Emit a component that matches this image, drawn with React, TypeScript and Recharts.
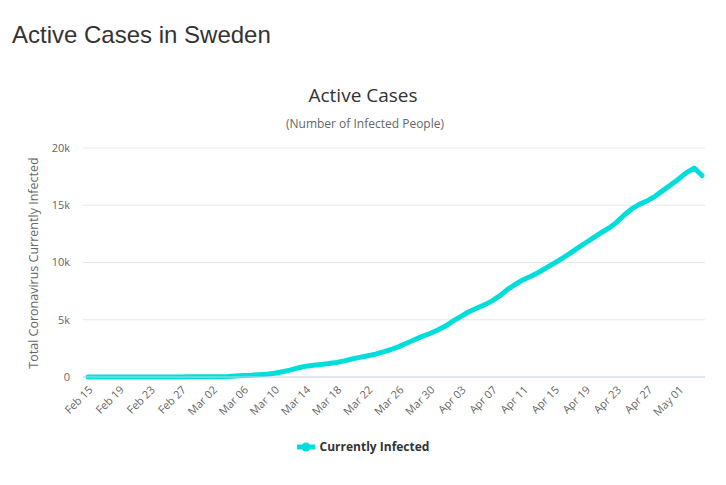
import { CartesianGrid, Legend, Line, LineChart, XAxis, YAxis } from "recharts";

// Feb 15 .. May 04 (2020), one label per day
const dates = [
  "Feb 15", "Feb 16", "Feb 17", "Feb 18", "Feb 19", "Feb 20", "Feb 21", "Feb 22",
  "Feb 23", "Feb 24", "Feb 25", "Feb 26", "Feb 27", "Feb 28", "Feb 29",
  "Mar 01", "Mar 02", "Mar 03", "Mar 04", "Mar 05", "Mar 06", "Mar 07", "Mar 08",
  "Mar 09", "Mar 10", "Mar 11", "Mar 12", "Mar 13", "Mar 14", "Mar 15", "Mar 16",
  "Mar 17", "Mar 18", "Mar 19", "Mar 20", "Mar 21", "Mar 22", "Mar 23", "Mar 24",
  "Mar 25", "Mar 26", "Mar 27", "Mar 28", "Mar 29", "Mar 30", "Mar 31",
  "Apr 01", "Apr 02", "Apr 03", "Apr 04", "Apr 05", "Apr 06", "Apr 07", "Apr 08",
  "Apr 09", "Apr 10", "Apr 11", "Apr 12", "Apr 13", "Apr 14", "Apr 15", "Apr 16",
  "Apr 17", "Apr 18", "Apr 19", "Apr 20", "Apr 21", "Apr 22", "Apr 23", "Apr 24",
  "Apr 25", "Apr 26", "Apr 27", "Apr 28", "Apr 29", "Apr 30",
  "May 01", "May 02", "May 03", "May 04",
];

const activeCases = [
  1, 1, 1, 1, 1, 1, 1, 1, 1, 1, 1, 2, 7, 12, 13,
  14, 15, 30, 52, 94, 137, 161, 203, 248, 330, 460, 598, 790, 940, 1017, 1098,
  1177, 1262, 1407, 1580, 1715, 1860, 1990, 2200, 2400, 2650, 2950, 3250, 3550, 3800, 4100,
  4450, 4900, 5300, 5700, 6000, 6300, 6650, 7100, 7650, 8100, 8500, 8800, 9150, 9550, 9950,
  10350, 10800, 11250, 11700, 12150, 12600, 13000, 13500, 14150, 14700, 15100, 15400, 15800,
  16300, 16800,
  17300, 17850, 18250, 17600,
];

const yTicks = [0, 5000, 10000, 15000, 20000];

const LINE_COLOR = "#00dedb";

const data = dates.map((date, i) => ({ date, active: activeCases[i] }));

function LegendContent({ payload }: any) {
  return (
    <div style={{ display: "flex", justifyContent: "center", alignItems: "center" }}>
      {(payload || []).map((p: any) => (
        <div key={p.value} style={{ display: "flex", alignItems: "center" }}>
          <svg width={18} height={12} style={{ marginRight: 5 }}>
            <line x1={0} y1={6} x2={18} y2={6} stroke={p.color} strokeWidth={5} />
            <circle cx={9} cy={6} r={4.5} fill={p.color} />
          </svg>
          <span style={{ fontSize: 12, fontWeight: 700, color: "#333" }}>{p.value}</span>
        </div>
      ))}
    </div>
  );
}

export default function App() {
  return (
    <div
      style={{
        position: "absolute",
        left: 0,
        top: 0,
        width: 726,
        height: 485,
        background: "#fff",
        fontFamily: "'Open Sans', sans-serif",
      }}
    >
      <LineChart
        width={726}
        height={485}
        data={data}
        margin={{ top: 148, right: 21, bottom: 48, left: 0 }}
      >
        <CartesianGrid stroke="#e6e6e6" vertical={false} />
        <XAxis
          dataKey="date"
          interval={3}
          height={60}
          padding={{ left: 5, right: 3 }}
          axisLine={{ stroke: "#ccd6eb" }}
          tickLine={false}
          angle={-45}
          textAnchor="end"
          tick={{ fill: "#666", fontSize: 11 }}
        />
        <YAxis
          domain={[0, 20000]}
          ticks={yTicks}
          width={83}
          axisLine={false}
          tickLine={false}
          tickMargin={7}
          tick={{ fill: "#666", fontSize: 11 }}
          tickFormatter={(v: number) => (v === 0 ? "0" : `${v / 1000}k`)}
        />
        <Legend
          verticalAlign="middle"
          align="center"
          layout="horizontal"
          wrapperStyle={{ top: 438, left: 0, width: 726 }}
          content={<LegendContent />}
        />
        <Line
          type="linear"
          dataKey="active"
          name="Currently Infected"
          stroke={LINE_COLOR}
          strokeWidth={5}
          strokeLinejoin="round"
          strokeLinecap="round"
          dot={false}
          isAnimationActive={false}
        />
      </LineChart>
      <svg
        width={726}
        height={485}
        style={{ position: "absolute", left: 0, top: 0, pointerEvents: "none" }}
      >
        <text
          x={12}
          y={43}
          fontSize={24}
          fill="#333"
          style={{ fontFamily: "'Liberation Sans', Arial, sans-serif" }}
        >
          Active Cases in Sweden
        </text>
        <text x={363} y={102} fontSize={19} fill="#333" textAnchor="middle">
          Active Cases
        </text>
        <text x={365} y={128} fontSize={12} fill="#666" textAnchor="middle">
          (Number of Infected People)
        </text>
        <text
          x={38}
          y={263}
          fontSize={12.5}
          fill="#666"
          textAnchor="middle"
          transform="rotate(-90 38 263)"
        >
          Total Coronavirus Currently Infected
        </text>
      </svg>
    </div>
  );
}
